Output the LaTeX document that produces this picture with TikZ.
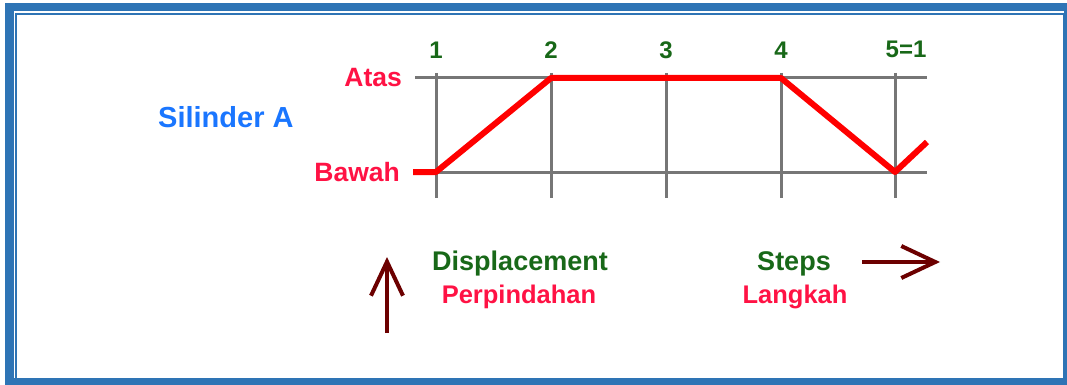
\documentclass[tikz,border=0pt]{standalone}
\usepackage{fontspec}
\setmainfont{Liberation Sans}
\usetikzlibrary{arrows.meta}
\definecolor{frameblue}{RGB}{46,116,181}
\definecolor{levelred}{RGB}{255,18,68}
\definecolor{stepgreen}{RGB}{24,104,24}
\definecolor{titleblue}{RGB}{26,118,255}
\definecolor{gridgray}{RGB}{118,118,118}
\definecolor{pathred}{RGB}{255,0,0}
\definecolor{arrowbrown}{RGB}{108,0,0}
\tikzset{
	steplabel/.style={text=stepgreen, anchor=base, inner sep=0pt, font=\fontsize{24}{28}\selectfont\bfseries},
	levellabel/.style={text=levelred, anchor=base east, inner sep=0pt, font=\fontsize{26.5}{30}\selectfont\bfseries},
	title/.style={text=titleblue, anchor=base west, inner sep=0pt, font=\fontsize{29}{34}\selectfont\bfseries},
	axisname/.style={text=stepgreen, anchor=base, inner sep=0pt, font=\fontsize{27}{32}\selectfont\bfseries},
	axisname2/.style={text=levelred, anchor=base, inner sep=0pt, font=\fontsize{25.5}{30}\selectfont\bfseries},
	gridline/.style={draw=gridgray, line width=3pt},
	motion/.style={draw=pathred, line width=6pt, line join=round},
	bigarrow/.style={draw=arrowbrown, line width=4pt, -{Straight Barb[length=34pt, width=32pt, line width=4pt]}}
}

\begin{document}
\begin{tikzpicture}[x=1pt, y=-1pt]
	\useasboundingbox (0,0) rectangle (1067,385);
	% frame
	\fill[frameblue] (5,3) rectangle (1067,385);
	\fill[white] (13.5,11.5) rectangle (1064,378);
	\fill[frameblue] (15,13) rectangle (1064,378);
	\fill[white] (17,15.5) rectangle (1063,377.5);

	% grid
	\coordinate (atasL) at (415,78);
	\coordinate (atasR) at (927,78);
	\coordinate (bawahL) at (415,172);
	\coordinate (bawahR) at (927,172);
	\draw[gridline] (atasL) -- (atasR);
	\draw[gridline] (bawahL) -- (bawahR);
	\foreach \x/\t [count=\i] in {436/1,551/2,666/3,781/4} {
		\coordinate (top\i) at (\x,73);
		\coordinate (bot\i) at (\x,198);
		\draw[gridline] (top\i) -- (bot\i);
		\node[steplabel] (n\i) at (\x,59) {\t};
	}
	\coordinate (top5) at (895,73);
	\coordinate (bot5) at (895,198);
	\draw[gridline] (top5) -- (bot5);
	\node[steplabel] (n5) at (906,58) {5=1};

	\node[levellabel] (atas) at (402,87) {Atas};
	\node[levellabel] (bawah) at (400,181) {Bawah};
	\node[title] (silinder) at (158,128) {Silinder A};

	% cylinder motion
	\coordinate (p0) at (413,172);
	\coordinate (p1) at (436,172);
	\coordinate (p2) at (551,78);
	\coordinate (p3) at (781,78);
	\coordinate (p4) at (895,172);
	\coordinate (p5) at (927,142);
	\draw[motion] (p0) -- (p1) -- (p2) -- (p3) -- (p4) -- (p5);

	% legend
	\node[axisname] (disp) at (520,270) {Displacement};
	\node[axisname2] (perp) at (519,303) {Perpindahan};
	\node[axisname] (steps) at (794,270) {Steps};
	\node[axisname2] (langkah) at (795,303) {Langkah};
	\coordinate (upS) at (387,333);
	\coordinate (upE) at (387,257);
	\draw[bigarrow] (upS) -- (upE);
	\coordinate (rightS) at (862,262);
	\coordinate (rightE) at (940,262);
	\draw[bigarrow] (rightS) -- (rightE);
\end{tikzpicture}
\end{document}
